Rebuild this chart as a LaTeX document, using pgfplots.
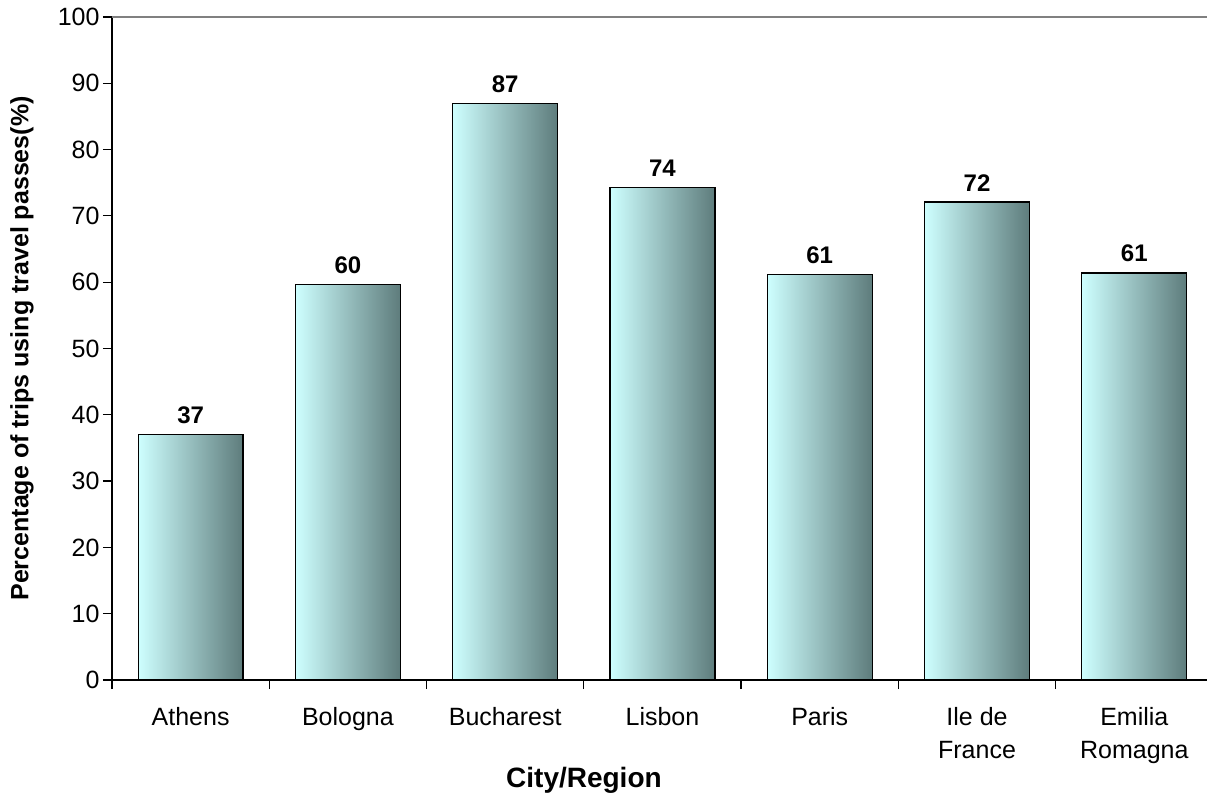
\documentclass[border=0pt]{standalone}
\usepackage{pgfplots}
\pgfplotsset{compat=1.18}
\usepackage{fontspec}
\setmainfont{Liberation Sans}

\definecolor{barlight}{RGB}{206,255,255}
\definecolor{bardark}{RGB}{94,124,124}
\definecolor{topline}{RGB}{128,128,128}

\pgfplotsset{citybar/.style={draw=black, line width=1.2pt, left color=barlight, right color=bardark}}

\begin{document}
\begin{tikzpicture}
\begin{axis}[
  scale only axis,
  width=1101pt, height=663pt,
  at={(112pt,118pt)}, anchor=south west,
  xmin=-0.5, xmax=6.5, ymin=0, ymax=100,
  ybar, bar width=0.667, bar shift=0pt,
  /pgf/number format/assume math mode=true,
  ytick={0,10,...,100},
  xtick={0,...,6},
  xticklabels={Athens, Bologna, Bucharest, Lisbon, Paris, {Ile de\\France}, {Emilia\\Romagna}},
  minor xtick={-0.5,0.5,...,6.5},
  tick align=outside,
  xtick pos=bottom, ytick pos=left,
  major tick length=9pt, minor tick length=9pt,
  tick style={black, line width=1.2pt},
  major x tick style={draw=none},
  minor x tick style={black, line width=1.2pt},
  axis line style={draw=none},
  x tick label style={align=center, font=\fontsize{25}{33}\selectfont, yshift=-15pt},
  y tick label style={font=\fontsize{25}{29}\selectfont},
  xlabel={City/Region},
  ylabel={Percentage of trips using travel passes(\%)},
  xlabel style={font=\bfseries\fontsize{28}{32}\selectfont, at={(axis description cs:0.4287,-0.151)}, anchor=center},
  ylabel style={font=\bfseries\fontsize{25}{30}\selectfont, at={(axis description cs:-0.0817,0.5)}, anchor=center},
  point meta=y,
  nodes near coords={\pgfmathprintnumber[fixed,precision=0]{\pgfplotspointmeta}},
  every node near coord/.append style={font=\bfseries\fontsize{24}{28}\selectfont, black, yshift=7pt},
  after end axis/.code={
    \draw[black, line width=1.5pt] (rel axis cs:0,0) -- (rel axis cs:0,1);
    \draw[black, line width=1.5pt] (rel axis cs:0,0) -- (rel axis cs:1,0);
    \draw[topline, line width=2.5pt] (rel axis cs:0,1) -- (rel axis cs:1,1);
  },
]
% one plot per city so that each bar carries its own gradient
\addplot[citybar] coordinates {(0,37.0)};
\addplot[citybar] coordinates {(1,59.7)};
\addplot[citybar] coordinates {(2,87.0)};
\addplot[citybar] coordinates {(3,74.3)};
\addplot[citybar] coordinates {(4,61.2)};
\addplot[citybar] coordinates {(5,72.1)};
\addplot[citybar] coordinates {(6,61.4)};
\end{axis}
\pgfresetboundingbox
\path[use as bounding box] (0,0) rectangle (1207pt,798pt);
\end{tikzpicture}
\end{document}
